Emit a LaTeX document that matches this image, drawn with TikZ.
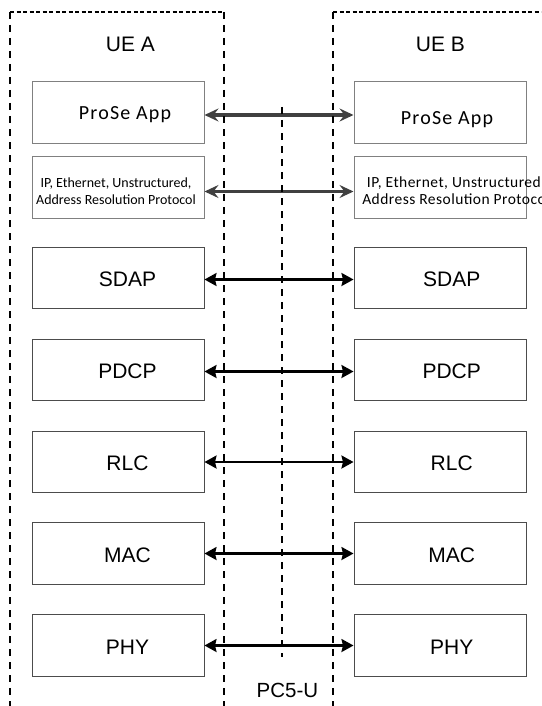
\documentclass[tikz,border=0pt]{standalone}
\usepackage{fontspec}
\setmainfont{Liberation Sans}
\newfontfamily\carlito{Carlito}
\newfontfamily\carlitols[LetterSpace=6]{Carlito}
\newfontfamily\carlitowide[LetterSpace=3]{Carlito}
\usetikzlibrary{arrows.meta,calc}
\tikzset{
  layerbox/.style={draw=black!70, line width=1pt, fill=white, minimum width=172pt,
    minimum height=61.5pt, inner sep=0pt},
  appbox/.style={layerbox, draw=black!50},
  layertext/.style={anchor=base, inner sep=0pt, font=\fontsize{21}{25}\selectfont},
  apptext/.style={anchor=base, inner sep=0pt, font=\carlitols\fontsize{20}{24}\selectfont},
  ueText/.style={anchor=base, inner sep=0pt, font=\fontsize{21}{25}\selectfont},
  garrow/.style={{Stealth[length=14pt,width=13pt,inset=5pt]}-{Stealth[length=14pt,width=13pt,inset=5pt]},
    line width=3.2pt, draw=black!75, color=black!75},
  barrow/.style={{Stealth[length=12pt,width=13pt,inset=1.5pt]}-{Stealth[length=12pt,width=13pt,inset=1.5pt]},
    line width=2.2pt, draw=black},
  hdash/.style={line width=1.5pt, dash pattern=on 4pt off 2.5pt},
  vdash/.style={line width=1.5pt, dash pattern=on 7pt off 6pt},
}
\begin{document}
\begin{tikzpicture}[x=1pt,y=-1pt]
\useasboundingbox (0,0) rectangle (541,706);
\clip (0,0) rectangle (541,706);

% boxes, left column
\node[appbox]   (appA)  at (118,112.5) {};
\node[appbox]   (ipA)   at (118,187.5) {};
\node[layerbox] (sdapA) at (118,278) {};
\node[layerbox] (pdcpA) at (118,370) {};
\node[layerbox] (rlcA)  at (118,462) {};
\node[layerbox] (macA)  at (118,553.5) {};
\node[layerbox] (phyA)  at (118,645.5) {};
% boxes, right column
\node[appbox]   (appB)  at (440,112.5) {};
\node[appbox]   (ipB)   at (440,187.5) {};
\node[layerbox] (sdapB) at (440,278) {};
\node[layerbox] (pdcpB) at (440,370) {};
\node[layerbox] (rlcB)  at (440,462) {};
\node[layerbox] (macB)  at (440,553.5) {};
\node[layerbox] (phyB)  at (440,645.5) {};

% texts
\node[ueText] (ueA) at (130.5,51.7) {UE A};
\node[ueText] (ueB) at (440.5,51.7) {UE B};
\node[apptext] (appAt) at (125,119.3) {ProSe App};
\node[apptext] (appBt) at (447,124.3) {ProSe App};
\node[align=center, inner sep=0pt, font=\carlito\fontsize{14}{17.5}\selectfont] (ipAt) at (116,191.3)
  {IP, Ethernet, Unstructured,\\Address Resolution Protocol};
\node[align=center, inner sep=0pt, font=\carlitowide\fontsize{15.5}{17}\selectfont] (ipBt) at (456,190.5)
  {IP, Ethernet, Unstructured,\\Address Resolution Protocol};
\node[layertext] (sdapAt) at (127.5,286.5) {SDAP};
\node[layertext] (pdcpAt) at (127.5,378.5) {PDCP};
\node[layertext] (rlcAt)  at (127.5,470.5) {RLC};
\node[layertext] (macAt)  at (127.5,562) {MAC};
\node[layertext] (phyAt)  at (127.5,654) {PHY};
\node[layertext] (sdapBt) at (451.7,286.5) {SDAP};
\node[layertext] (pdcpBt) at (451.7,378.5) {PDCP};
\node[layertext] (rlcBt)  at (451.7,470.5) {RLC};
\node[layertext] (macBt)  at (451.7,562) {MAC};
\node[layertext] (phyBt)  at (451.7,654) {PHY};
\node[anchor=base, inner sep=0pt, font=\fontsize{20.5}{24}\selectfont] (pc5) at (287.5,697) {PC5-U};

% arrows
\draw[garrow] ([yshift=-2.5pt]appA.east) -- ([yshift=-2.5pt]appB.west);
\draw[garrow] ([yshift=-4pt]ipA.east) -- ([yshift=-4pt]ipB.west);
\draw[barrow] ([yshift=-1.5pt]sdapA.east) -- ([yshift=-1.5pt]sdapB.west);
\draw[barrow] ([yshift=-1.5pt]pdcpA.east) -- ([yshift=-1.5pt]pdcpB.west);
\draw[barrow] (rlcA.east) -- (rlcB.west);
\draw[barrow] (macA.east) -- (macB.west);
\draw[barrow] (phyA.east) -- (phyB.west);

% dashed boundaries
\draw[hdash] (10,12) -- (224,12);
\draw[vdash] (10,12) -- (10,706);
\draw[vdash] (224,12) -- (224,706);
\draw[hdash] (333,12) -- (541,12);
\draw[vdash] (333,12) -- (333,706);
\draw[vdash] (282,107) -- (282,657);
\end{tikzpicture}
\end{document}
